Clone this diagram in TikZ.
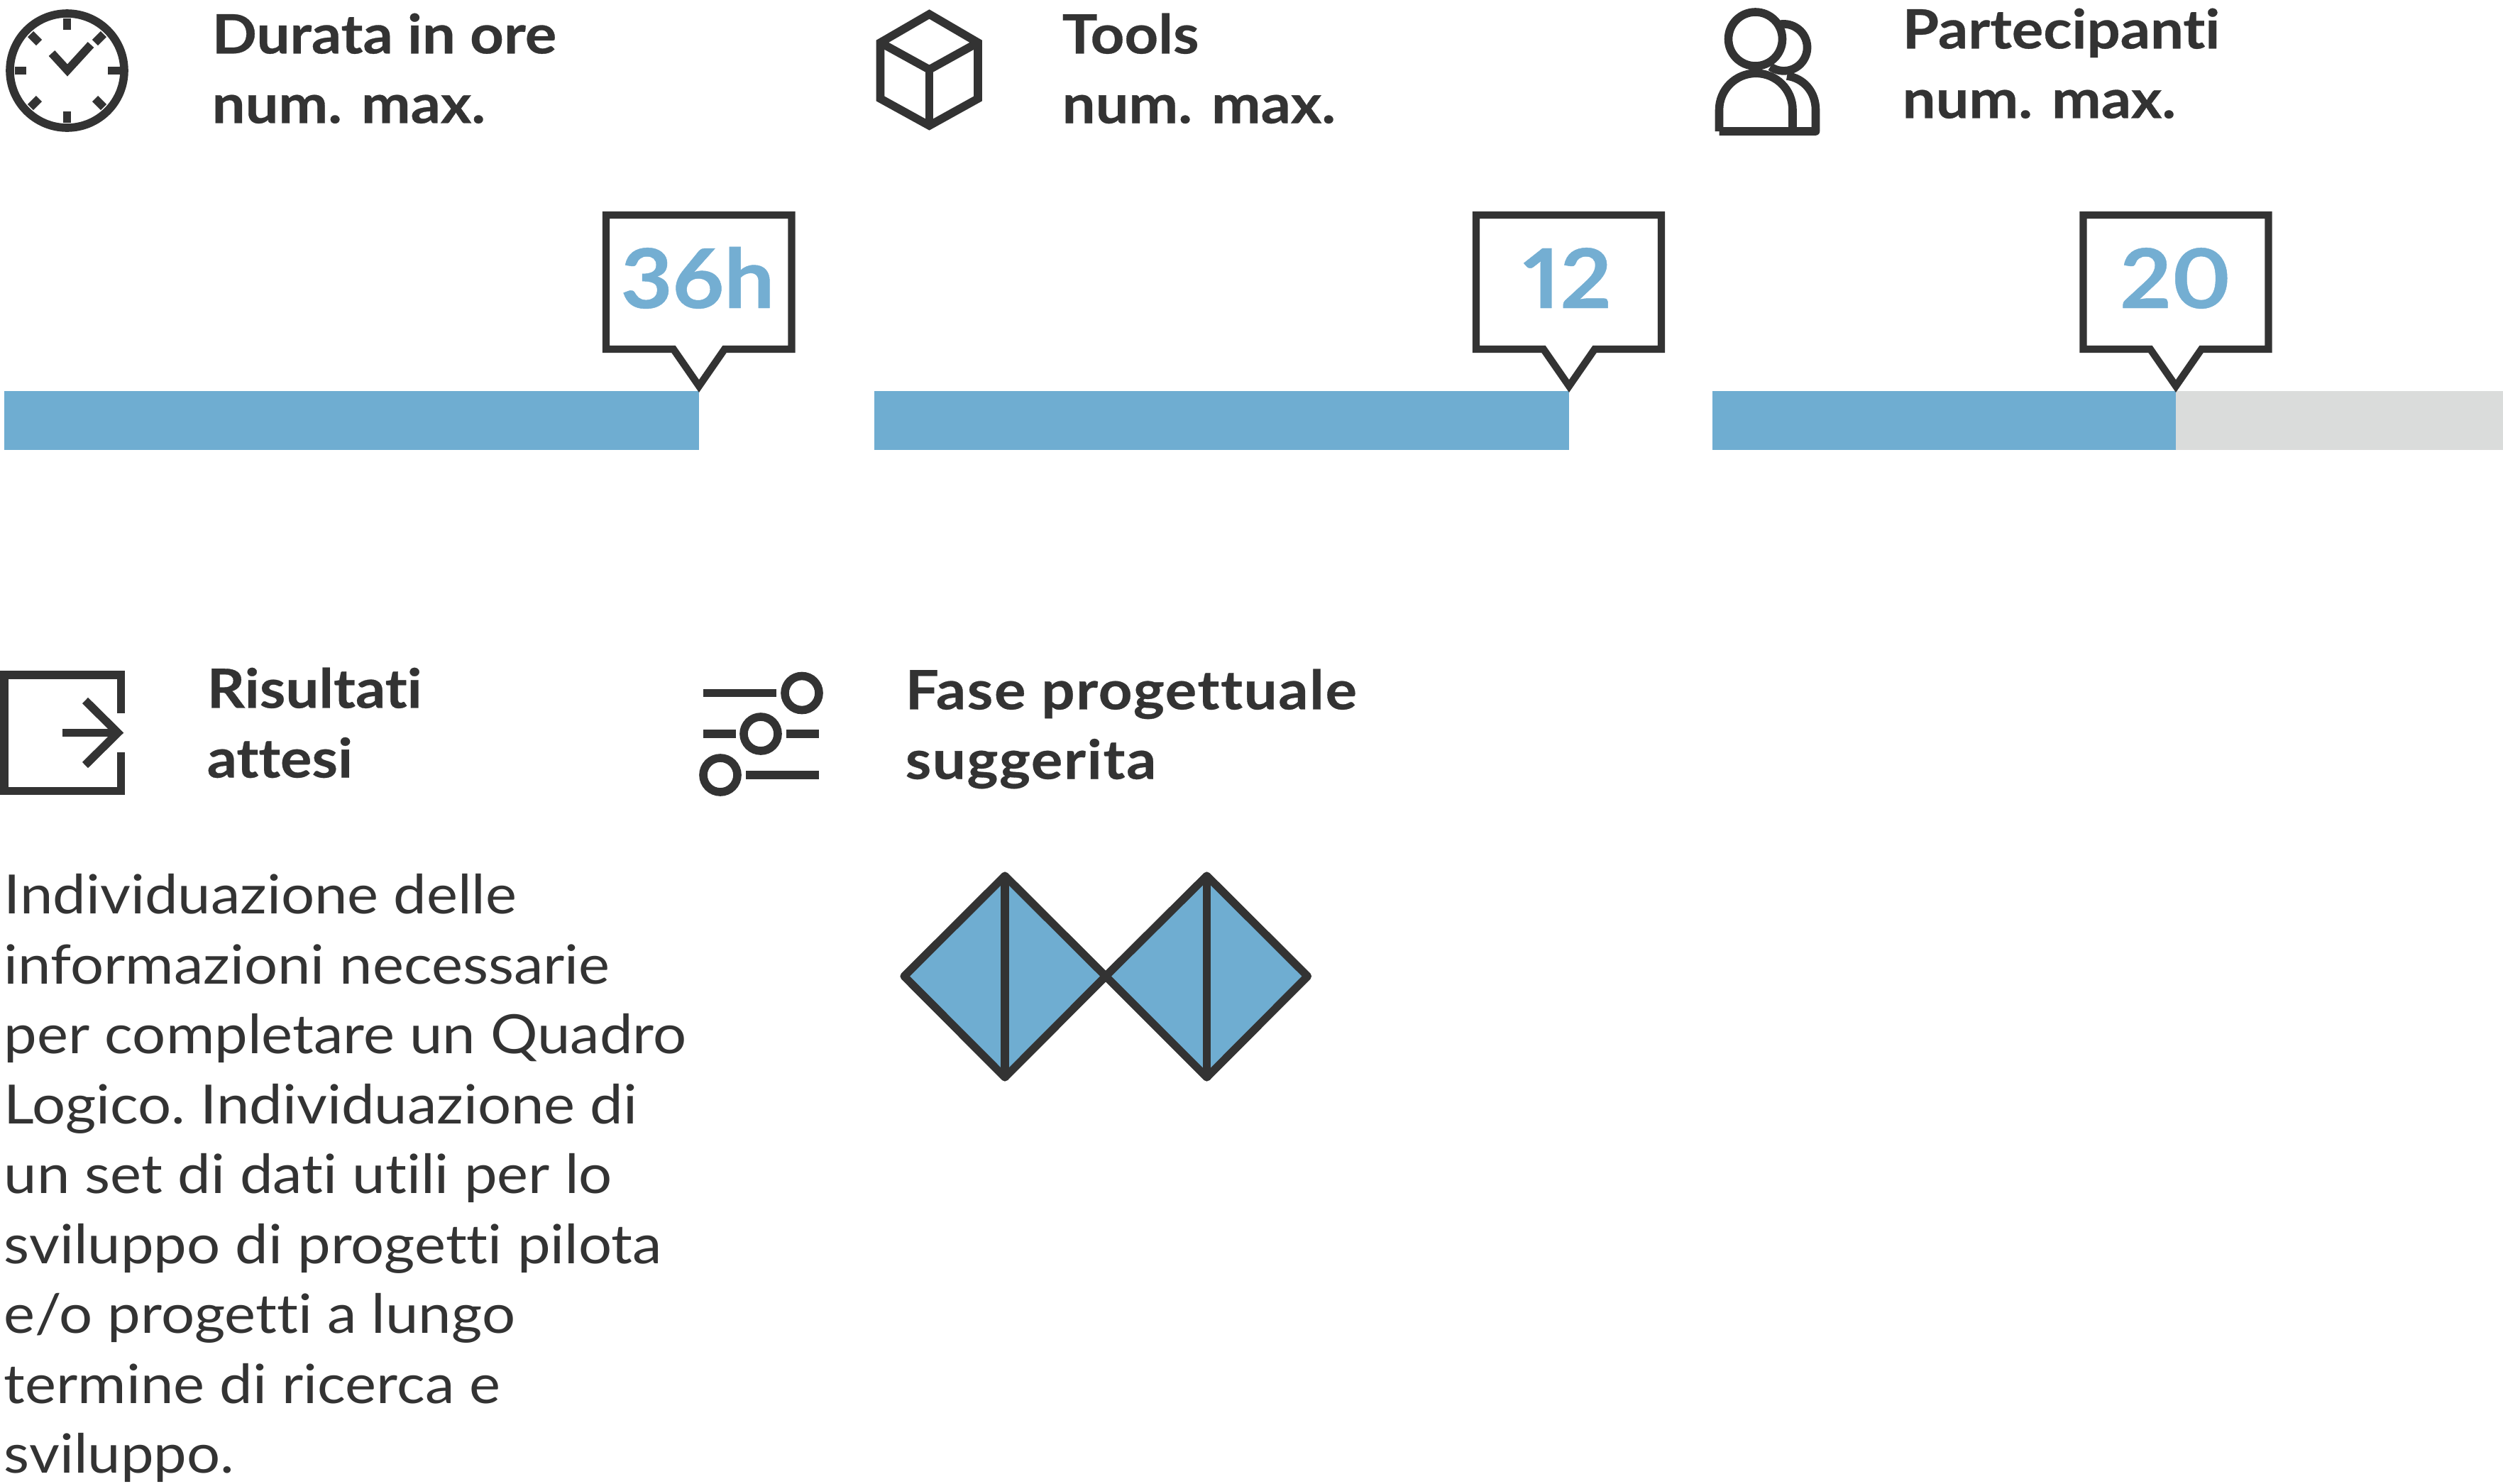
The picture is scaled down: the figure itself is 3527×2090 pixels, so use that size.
\documentclass[tikz,border=0pt]{standalone}
\usepackage{fontspec}
\setmainfont[FakeStretch=1.09,Ligatures=NoCommon,Numbers=Proportional,BoldFeatures={FakeBold=0.4}]{Lato}
\definecolor{inkgrey}{HTML}{333333}
\definecolor{barblue}{HTML}{6FADD1}
\definecolor{numblue}{HTML}{74AED2}
\definecolor{bargrey}{HTML}{DADCDB}
\tikzset{
	icon/.style={draw=inkgrey, line width=3.3pt, miter limit=10},
	bubble/.style={draw=inkgrey, line width=2.9pt, fill=white, miter limit=10},
	heading/.style={anchor=north west, inner sep=0pt, align=left, text=inkgrey, font=\fontsize{21.7}{27.9}\selectfont\bfseries},
	bodytext/.style={anchor=north west, inner sep=0pt, align=left, text=inkgrey, font=\fontsize{21.7}{28}\selectfont\frenchspacing},
	barnum/.style={anchor=base, inner sep=0pt, text=numblue, font=\fontsize{33}{33}\selectfont\bfseries},
	phase/.style={draw=inkgrey, line width=3.2pt, line join=round, fill=barblue}
}

\begin{document}
\begin{tikzpicture}[x=0.01cm, y=-0.01cm]
	\useasboundingbox (0,0) rectangle (3527,2090);

	%clock icon and first heading
	\draw[icon] (94.5,99.5) circle (80.5);
	\draw[icon] (94.5,26) -- (94.5,42);
	\draw[icon] (94.5,157) -- (94.5,173);
	\draw[icon] (21,99.5) -- (37,99.5);
	\draw[icon] (152,99.5) -- (169,99.5);
	\draw[icon] (134,60) -- (146,48);
	\draw[icon] (55,60) -- (43,48);
	\draw[icon] (134,139) -- (146,151);
	\draw[icon] (55,139) -- (43,151);
	\draw[icon] (73,75) -- (95,99) -- (128,63);
	\node[heading] (durata) at (298,18) {Durata in ore\\num. max.};

	%cube icon and second heading
	\draw[icon] (1309.5,20) -- (1378,60) -- (1378,139) -- (1309.5,177) -- (1240.5,139) -- (1240.5,60) -- cycle;
	\draw[icon] (1240.5,60) -- (1309.5,98) -- (1378,60);
	\draw[icon] (1309.5,98) -- (1309.5,177);
	\node[heading] (tools) at (1496,18) {Tools\\num. max.};

	%people icon and third heading
	\draw[icon] (2473.5,55) circle (38);
	\draw[icon] (2505,35) arc (-105:125:33);
	\draw[icon, line join=round] (2422.5,185) -- (2422.5,155) arc (-180:0:51.75) -- (2526,185);
	\draw[icon, line join=round] (2518,107) .. controls (2542,110) and (2558.5,130) .. (2558.5,155) -- (2558.5,185) -- (2422.5,185);
	\node[heading] (partecipanti) at (2680,11) {Partecipanti\\num. max.};

	%bars
	\fill[barblue] (6,551) rectangle (985,634);
	\fill[barblue] (1232,551) rectangle (2211,634);
	\fill[bargrey] (3066,551) rectangle (3527,634);
	\fill[barblue] (2413,551) rectangle (3066,634);

	%callouts above the bars
	\draw[bubble] (854,303) -- (1115.5,303) -- (1115.5,492) -- (1021,492) -- (985,544) -- (949,492) -- (854,492) -- cycle;
	\node[barnum] (hours) at (983,434) {36h};
	\draw[bubble] (2080,303) -- (2341,303) -- (2341,492) -- (2247,492) -- (2211,544) -- (2175,492) -- (2080,492) -- cycle;
	\node[barnum] (tools num) at (2208.5,434) {12};
	\draw[bubble] (2935.5,303) -- (3196.5,303) -- (3196.5,492) -- (3102,492) -- (3066,544) -- (3030,492) -- (2935.5,492) -- cycle;
	\node[barnum] (people num) at (3065.5,434) {20};

	%box with arrow icon and its heading
	\draw[icon] (170.5,1005) -- (170.5,951) -- (6,951) -- (6,1114.5) -- (170.5,1114.5) -- (170.5,1060);
	\draw[icon] (88,1032.5) -- (166,1032.5);
	\draw[icon] (120,987) -- (166,1032.5) -- (120,1078);
	\node[heading] (risultati) at (291,940) {Risultati\\attesi};

	%body text below
	\node[bodytext] (testo) at (5,1231) {Individuazione delle\\informazioni necessarie\\per completare un Quadro\\Logico. Individuazione di\\un set di dati utili per lo\\sviluppo di progetti pilota\\e/o progetti a lungo\\termine di ricerca e\\sviluppo.};

	%sliders icon and its heading
	\draw[icon] (991,976.5) -- (1094,976.5);
	\draw[icon] (1130,976.5) circle (24);
	\draw[icon] (991,1034) -- (1037,1034);
	\draw[icon] (1072,1034) circle (24);
	\draw[icon] (1108,1034) -- (1154,1034);
	\draw[icon] (1015,1092) circle (24);
	\draw[icon] (1051,1092) -- (1154,1092);
	\node[heading, font=\fontsize{21.7}{27.9}\selectfont\bfseries\addfontfeature{LetterSpace=2.2}] (fase) at (1275,942) {Fase progettuale\\suggerita};

	%two phase diamonds
	\draw[phase] (1274,1375.5) -- (1416,1234) -- (1558,1375.5) -- (1416,1518) -- cycle;
	\draw[phase] (1416,1234) -- (1416,1518);
	\draw[phase] (1558,1375.5) -- (1700.5,1234) -- (1842.5,1375.5) -- (1700.5,1518) -- cycle;
	\draw[phase] (1700.5,1234) -- (1700.5,1518);

\end{tikzpicture}
\end{document}
